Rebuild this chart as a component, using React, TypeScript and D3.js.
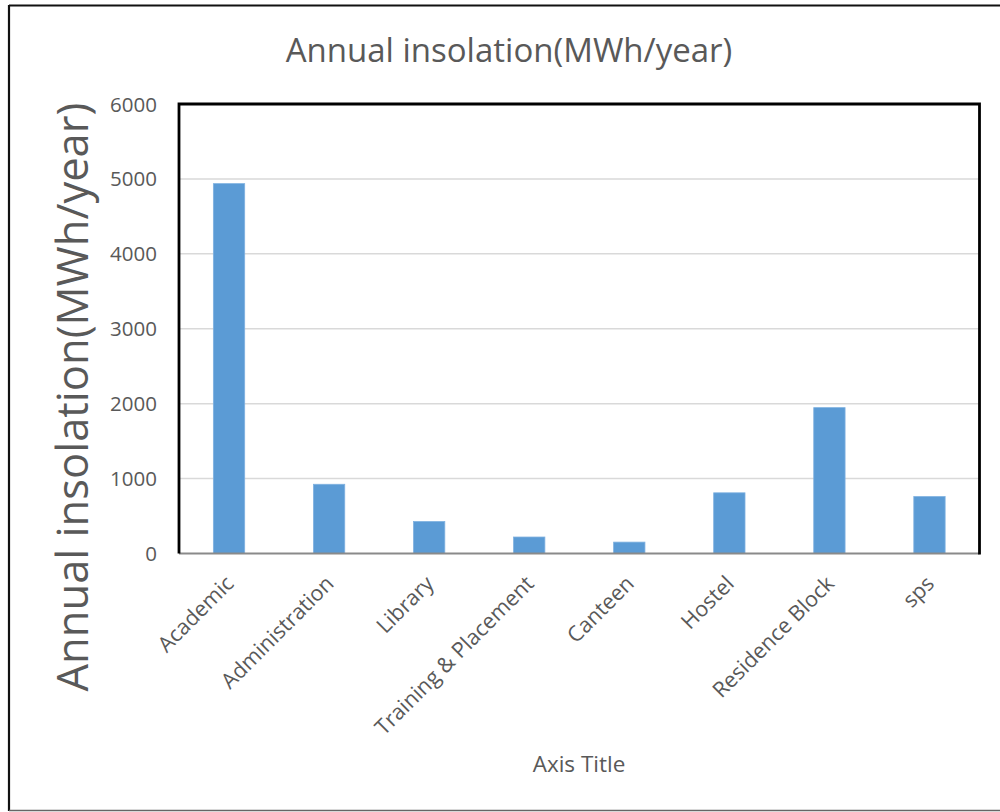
import React from "react";
import * as d3 from "d3";

// Annual insolation per building block (MWh/year)
const categories: string[] = [
  "Academic",
  "Administration",
  "Library",
  "Training & Placement",
  "Canteen",
  "Hostel",
  "Residence Block",
  "sps",
];
const insolation: number[] = [4937, 924, 427, 220, 152, 810, 1947, 760];
const yTicks: number[] = [0, 1000, 2000, 3000, 4000, 5000, 6000];

const chartTitle = "Annual insolation(MWh/year)";
const yAxisTitle = "Annual insolation(MWh/year)";
const xAxisTitle = "Axis Title";

const W = 1000;
const H = 812;
const plot = { left: 179, right: 979.5, top: 104, bottom: 553.5 };
const FONT = "'Open Sans', 'Liberation Sans', sans-serif";
const TEXT = "#595959";

export default function App() {
  const x = d3
    .scaleBand<string>()
    .domain(categories)
    .range([plot.left, plot.right])
    .paddingInner(0.687)
    .paddingOuter(0.3435);
  const y = d3.scaleLinear().domain([0, 6000]).range([plot.bottom, plot.top]);

  return (
    <svg
      width={W}
      height={H}
      style={{ position: "absolute", left: 0, top: 0, background: "#fff" }}
      fontFamily={FONT}
    >
      <rect x={0} y={0} width={W} height={H} fill="#fff" />
      {/* outer chart frame */}
      <line x1={9} y1={5.5} x2={W} y2={5.5} stroke="#111" strokeWidth={2} />
      <line x1={9} y1={5} x2={9} y2={811} stroke="#111" strokeWidth={2.2} />
      <line x1={9} y1={810.5} x2={W} y2={810.5} stroke="#666" strokeWidth={1.5} />

      {/* chart title */}
      <text x={509} y={62} textAnchor="middle" fontSize={33} fill={TEXT}>
        {chartTitle}
      </text>

      {/* gridlines */}
      {yTicks
        .filter((t) => t > 0 && t < 6000)
        .map((t) => (
          <line
            key={"g" + t}
            x1={plot.left}
            x2={plot.right}
            y1={y(t)}
            y2={y(t)}
            stroke="#d9d9d9"
            strokeWidth={1.5}
          />
        ))}

      {/* bars */}
      {insolation.map((v, i) => (
        <rect
          key={categories[i]}
          x={x(categories[i])!}
          y={y(v)}
          width={x.bandwidth()}
          height={y(0) - y(v)}
          fill="#5b9bd5"
          stroke="#7fb1e0"
          strokeWidth={0.8}
        />
      ))}

      {/* category axis baseline */}
      <line
        x1={plot.left}
        x2={plot.right}
        y1={y(0)}
        y2={y(0)}
        stroke="#8a8a8a"
        strokeWidth={2}
      />

      {/* plot area frame: left, top, right */}
      <path
        d={`M${plot.left},${plot.bottom}V${plot.top}H${plot.right}V${plot.bottom + 1}`}
        fill="none"
        stroke="#000"
        strokeWidth={2.8}
      />

      {/* y tick labels */}
      {yTicks.map((t) => (
        <text
          key={"t" + t}
          x={157}
          y={y(t) + 7.5}
          textAnchor="end"
          fontSize={20.5}
          fill={TEXT}
        >
          {t}
        </text>
      ))}

      {/* category labels */}
      {categories.map((c) => {
        const cx = x(c)! + x.bandwidth() / 2 + 6;
        const cy = 585;
        return (
          <text
            key={"c" + c}
            x={cx}
            y={cy}
            textAnchor="end"
            fontSize={21.5}
            fill={TEXT}
            transform={`rotate(-45 ${cx} ${cy})`}
          >
            {c}
          </text>
        );
      })}

      {/* y axis title */}
      <text
        x={88}
        y={397}
        textAnchor="middle"
        fontSize={43.5}
        fill={TEXT}
        transform={`rotate(-90 88 397)`}
      >
        {yAxisTitle}
      </text>

      {/* x axis title */}
      <text x={579} y={772} textAnchor="middle" fontSize={22.5} fill={TEXT}>
        {xAxisTitle}
      </text>
    </svg>
  );
}
